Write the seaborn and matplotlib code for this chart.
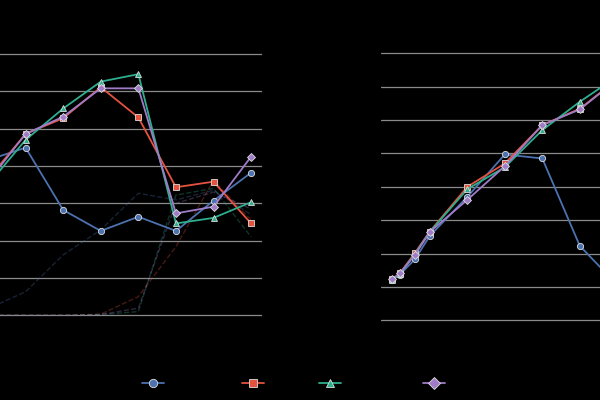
import numpy as np
import pandas as pd
import matplotlib
matplotlib.use("Agg")
import matplotlib.pyplot as plt
import seaborn as sns

# series names and colours
methods = ["Random", "Grid", "Bayesian", "Evolution"]
palette = ["#4C72B0", "#E5533F", "#2EAE8E", "#A07CC8"]
marker_map = ["o", "s", "^", "D"]

# left panel: steps 0..7, solid = score, dashed = share
steps = [0, 1, 2, 3, 4, 5, 6, 7]
score_random = [41.6, 44.9, 28.2, 22.6, 26.4, 22.6, 30.7, 38.2]
score_grid = [36.5, 48.6, 52.8, 61.1, 53.0, 34.3, 35.8, 24.6]
score_bayes = [35.0, 47.0, 55.4, 62.6, 64.6, 24.6, 26.1, 30.3]
score_evol = [35.8, 48.6, 53.2, 60.8, 60.8, 27.3, 29.1, 42.5]

share_random = [1.8, 6.3, 16.2, 22.9, 32.7, 30.9, 33.5, 27.0]
share_grid = [0.0, 0.0, 0.0, 0.3, 5.0, 18.4, 36.2, 25.5]
share_bayes = [0.0, 0.0, 0.0, 0.2, 1.0, 32.2, 34.0, 21.0]
share_evol = [0.0, 0.0, 0.0, 0.2, 1.9, 30.0, 33.0, 28.5]

# right panel: budget (log2 axis)
budget = [1, 1.15, 1.52, 2, 4, 8, 16, 32, 64]
curve_random = [12.1, 13.7, 18.3, 25.3, 37.0, 49.7, 48.5, 22.3, 10.6]
curve_grid = [12.3, 14.1, 20.2, 26.6, 40.0, 47.0, 58.5, 63.4, 72.2]
curve_bayes = [12.1, 13.9, 19.9, 26.5, 39.3, 45.9, 57.0, 65.5, 73.1]
curve_evol = [12.3, 14.1, 19.6, 26.5, 36.1, 46.2, 58.5, 63.2, 72.2]


def long_frame(x, series, xname):
    rows = []
    for name, vals in zip(methods, series):
        for xv, yv in zip(x, vals):
            rows.append({xname: xv, "value": yv, "method": name})
    return pd.DataFrame(rows)


left_df = long_frame(steps, [score_random, score_grid, score_bayes, score_evol], "step")
share_df = long_frame(steps, [share_random, share_grid, share_bayes, share_evol], "step")
right_df = long_frame(budget, [curve_random, curve_grid, curve_bayes, curve_evol], "budget")

sns.set_theme(style="whitegrid")
plt.rcParams["font.family"] = ["DejaVu Sans"]

fig = plt.figure(figsize=(6, 4), dpi=100, facecolor="black")
ax1 = fig.add_axes([-0.0387, 0.175, 0.476, 0.725])
ax2 = fig.add_axes([0.6355, 0.1625, 0.43, 0.7375])

colors = dict(zip(methods, palette))
markers = dict(zip(methods, marker_map))

for ax in (ax1, ax2):
    ax.set_facecolor("black")
    ax.grid(axis="y", color="#8a8a8a", linewidth=0.9)
    ax.grid(axis="x", visible=False)
    for s in ax.spines.values():
        s.set_visible(False)
    ax.tick_params(colors="black", labelcolor="black")

# faint dashed share lines
sns.lineplot(data=share_df, x="step", y="value", hue="method", palette=colors,
             linestyle="--", linewidth=1.0, alpha=0.3, legend=False, ax=ax1)
sns.lineplot(data=left_df, x="step", y="value", hue="method", style="method",
             palette=colors, markers=markers, dashes=False, linewidth=1.3,
             markersize=4.5, mec="#dddddd", mew=0.6, ax=ax1)
sns.lineplot(data=right_df, x="budget", y="value", hue="method", style="method",
             palette=colors, markers=markers, dashes=False, linewidth=1.3,
             markersize=4.5, mec="#dddddd", mew=0.6, legend=False, ax=ax2)

ax1.set_xlim(-0.3, 7.3)
ax1.set_ylim(-3.94, 73.75)
ax1.set_yticks(np.arange(0, 71, 10))
ax2.set_xscale("log", base=2)
ax2.set_xlim(2 ** -0.293, 2 ** 6.586)
ax2.set_ylim(-4.4, 84.0)
ax2.set_yticks(np.arange(0, 81, 10))

for ax in (ax1, ax2):
    ax.set_xlabel("")
    ax.set_ylabel("Score", color="black")

handles, labels = ax1.get_legend_handles_labels()
ax1.get_legend().remove()
for h in handles:
    h.set_markersize(6)
fig.legend(handles, labels, loc="center", bbox_to_anchor=(0.54, 0.04), ncol=4,
           frameon=False, fontsize=8, labelcolor="black")

fig.savefig("out.png", dpi=100, facecolor="black")
